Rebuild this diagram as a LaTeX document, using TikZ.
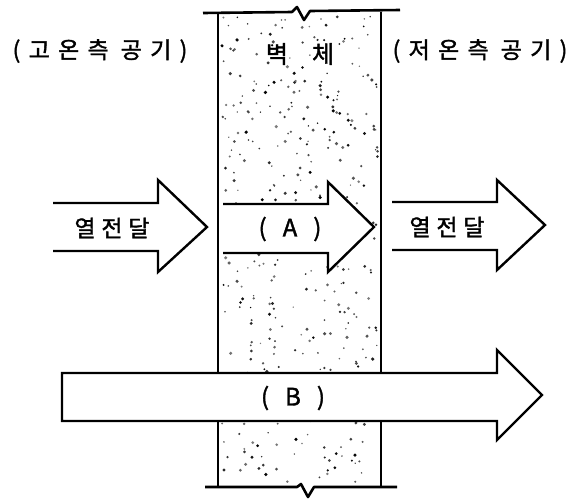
\documentclass[tikz,border=0pt]{standalone}
\usepackage{fontspec}
\setmainfont{Noto Sans CJK KR}[FakeBold=1.5]
\begin{document}
\begin{tikzpicture}[x=1pt,y=-1pt,
  wall/.style={line width=2.6pt},
  arr/.style={line width=2.4pt, line join=miter},
  lbl/.style={inner sep=0pt, font=\fontsize{23}{25}\selectfont\addfontfeature{LetterSpace=36}},
  flow/.style={inner sep=0pt, font=\fontsize{23}{25}\selectfont\addfontfeature{LetterSpace=25}},
  tag/.style={inner sep=0pt, font=\fontsize{24}{25}\selectfont}]
\useasboundingbox (0,0) rectangle (572,499);
% stipple of the wall
\pgfmathsetseed{11}
\foreach \i in {1,...,420}{
  \pgfmathsetmacro\dx{222+156*rnd}
  \pgfmathsetmacro\dy{16+466*rnd}
  \pgfmathsetmacro\dr{0.7+1.1*rnd}
  \pgfmathsetmacro\dg{50+50*rnd}
  \fill[black!\dg] (\dx,\dy) circle[radius=\dr];
}
% wall faces
\draw[wall] (218,12) -- (218,487);
\draw[wall] (381,12) -- (381,487);
% top break line
\draw[wall, line join=round] (203,13) -- (292,12) -- (297,7) -- (304,20) -- (310,11) -- (400,10);
% bottom break line
\draw[wall, line join=round] (205,487) -- (297,487) -- (301,484) -- (308,497) -- (314,487) -- (397,487);
% left arrow
\draw[arr] (53,203) -- (158,203) -- (158,180) -- (207,227) -- (158,272) -- (158,251) -- (53,251);
% arrow A
\fill[white] (220,204) -- (328,204) -- (328,182) -- (374,227) -- (328,272) -- (328,253) -- (220,253) -- cycle;
\draw[arr] (223,204) -- (328,204) -- (328,182) -- (374,227) -- (328,272) -- (328,253) -- (223,253);
% right arrow
\draw[arr] (392,202) -- (497,202) -- (497,180) -- (545,225) -- (497,270) -- (497,250) -- (392,250);
% arrow B
\filldraw[arr, fill=white] (62,373) -- (497,373) -- (497,350) -- (542,395) -- (497,440) -- (497,421) -- (62,421) -- cycle;
% texts
\node[lbl] (hot) at (100,51) {(고온측\hspace{12pt}공기)};
\node[lbl] (cold) at (480,51) {(저온측\hspace{12pt}공기)};
\node[tag] (wallname) at (300,54) {벽\hspace{24pt}체};
\node[flow] (q1) at (112,228) {열전달};
\node[flow] (q2) at (447,227) {열전달};
\node[tag] (a) at (290,229) {(\hspace{16pt}A\hspace{16pt})};
\node[tag] (b) at (293,398) {(\hspace{16pt}B\hspace{16pt})};
\end{tikzpicture}
\end{document}
